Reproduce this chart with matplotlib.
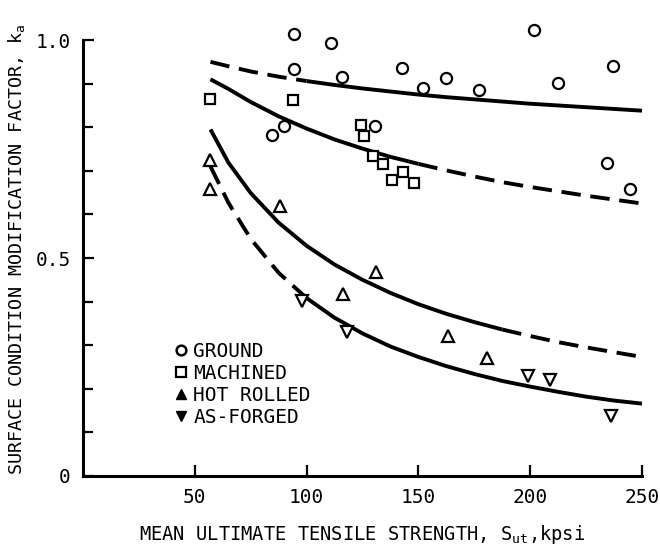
import matplotlib
matplotlib.use("Agg")
import matplotlib.pyplot as plt
from matplotlib.lines import Line2D

plt.rcParams['font.family'] = ['DejaVu Sans Mono']

ground_x = [94.5, 94.5, 110.7, 84.5, 90.0, 115.9, 130.5, 142.5, 152.0, 162.5,
            177.3, 201.8, 212.2, 237.0, 234.3, 244.5]
ground_y = [1.015, 0.933, 0.993, 0.782, 0.803, 0.916, 0.803, 0.935, 0.891, 0.914,
            0.885, 1.023, 0.902, 0.940, 0.717, 0.659]

machined_x = [56.6, 93.8, 124.1, 125.6, 129.6, 134.1, 138.3, 143.2, 148.0]
machined_y = [0.864, 0.862, 0.806, 0.780, 0.734, 0.715, 0.680, 0.698, 0.673]

hot_x = [56.6, 56.6, 88.0, 131.0, 116.3, 163.0, 180.5]
hot_y = [0.726, 0.658, 0.620, 0.469, 0.417, 0.320, 0.270]

forged_x = [98.0, 118.0, 199.2, 208.8, 236.0]
forged_y = [0.402, 0.330, 0.229, 0.220, 0.138]

# fitted curves
curve_x = [57, 65, 75, 87.5, 100, 112.5, 125, 137.5, 150, 162.5, 175, 187.5,
           200, 212.5, 225, 237.5, 250]
ground_fit = [0.950, 0.940, 0.928, 0.916, 0.906, 0.897, 0.889, 0.882, 0.875,
              0.869, 0.864, 0.859, 0.854, 0.850, 0.846, 0.842, 0.838]
machined_fit = [0.910, 0.888, 0.858, 0.825, 0.797, 0.772, 0.751, 0.732, 0.716,
                0.701, 0.687, 0.674, 0.663, 0.653, 0.643, 0.634, 0.625]
hot_fit = [0.795, 0.719, 0.649, 0.581, 0.528, 0.485, 0.450, 0.420, 0.394,
           0.372, 0.353, 0.336, 0.321, 0.307, 0.295, 0.284, 0.273]
forged_fit = [0.710, 0.627, 0.544, 0.466, 0.408, 0.363, 0.327, 0.297, 0.273,
              0.252, 0.234, 0.218, 0.205, 0.193, 0.182, 0.173, 0.166]

fig = plt.figure(figsize=(6.6, 5.49), dpi=100)
ax = fig.add_axes([0.1258, 0.133, 0.847, 0.794])

lw = 2.8
dash = (5, 2.5)


def split_curve(ys, i, first_dashed):
    # draw part of the curve dashed, the rest solid
    a = dict(color='black', lw=lw, solid_capstyle='butt')
    b = dict(color='black', lw=lw, dashes=dash, dash_capstyle='butt')
    ax.plot(curve_x[:i + 1], ys[:i + 1], **(b if first_dashed else a))
    ax.plot(curve_x[i:], ys[i:], **(a if first_dashed else b))


split_curve(ground_fit, 4, True)
split_curve(machined_fit, 8, False)
split_curve(hot_fit, 11, False)
split_curve(forged_fit, 4, True)

mk = dict(linestyle='none', markerfacecolor='white', markeredgecolor='black',
          markeredgewidth=1.6, clip_on=False, zorder=3)
ax.plot(ground_x, ground_y, marker='o', markersize=8, **mk)
ax.plot(machined_x, machined_y, marker='s', markersize=7.5, **mk)
ax.plot(hot_x, hot_y, marker='^', markersize=8, **mk)
ax.plot(forged_x, forged_y, marker='v', markersize=8, **mk)

ax.set_xlim(0, 250)
ax.set_ylim(0, 1.0)
ax.spines['top'].set_visible(False)
ax.spines['right'].set_visible(False)
ax.spines['left'].set_linewidth(2.2)
ax.spines['bottom'].set_linewidth(2.2)

ax.set_xticks([50, 100, 150, 200, 250])
ax.set_yticks([0, 0.5, 1.0])
ax.set_yticklabels(['0', '0.5', '1.0'])
ax.set_yticks([0.1, 0.2, 0.3, 0.4, 0.6, 0.7, 0.8, 0.9], minor=True)
ax.tick_params(direction='in', length=8, width=1.6, labelsize=14, pad=9)
ax.tick_params(which='minor', direction='in', length=7, width=1.6)

ax.set_xlabel(r'MEAN ULTIMATE TENSILE STRENGTH, $\mathregular{S_{ut}}$,kpsi',
              fontsize=13.5, labelpad=11)
ax.set_ylabel(r'SURFACE CONDITION MODIFICATION FACTOR, $\mathregular{k_a}$',
              fontsize=13.2)
ax.yaxis.set_label_coords(-0.10, 0.52)

handles = [
    Line2D([], [], marker='o', linestyle='none', markersize=7, markerfacecolor='white',
           markeredgecolor='black', markeredgewidth=1.8),
    Line2D([], [], marker='s', linestyle='none', markersize=6.5, markerfacecolor='white',
           markeredgecolor='black', markeredgewidth=1.6),
    Line2D([], [], marker='^', linestyle='none', markersize=7, color='black'),
    Line2D([], [], marker='v', linestyle='none', markersize=7, color='black'),
]
ax.legend(handles, ['GROUND', 'MACHINED', 'HOT ROLLED', 'AS-FORGED'],
          loc='lower left', bbox_to_anchor=(0.145, 0.09), frameon=False,
          fontsize=14, handlelength=0.7, handletextpad=0.3, labelspacing=0.15,
          borderpad=0)

fig.savefig('out.png', dpi=100)
